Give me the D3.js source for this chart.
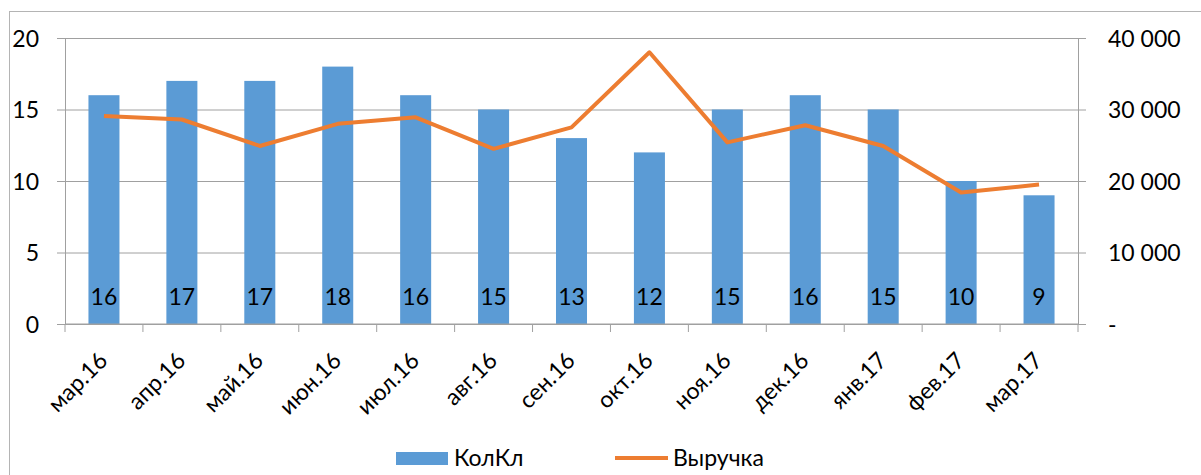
<!DOCTYPE html>
<html>
<head>
<meta charset="utf-8">
<script src="https://cdn.jsdelivr.net/npm/d3@7"></script>
<style>
  html, body { margin: 0; padding: 0; background: #fff; }
  svg text { font-family: Lato, "Open Sans", sans-serif; fill: #000; }
</style>
</head>
<body>
<div id="chart"></div>
<script>
// данные
const months = ['мар.16', 'апр.16', 'май.16', 'июн.16', 'июл.16', 'авг.16', 'сен.16',
  'окт.16', 'ноя.16', 'дек.16', 'янв.17', 'фев.17', 'мар.17'];
const kolKl = [16, 17, 17, 18, 16, 15, 13, 12, 15, 16, 15, 10, 9];
const revenue = [29100, 28600, 24900, 28000, 28900, 24500, 27500, 38000, 25400, 27800, 24900, 18400, 19500];
const leftTicks = [0, 5, 10, 15, 20];
const rightTicks = [0, 10000, 20000, 30000, 40000];
const legendNames = ['КолКл', 'Выручка'];

const width = 1201, height = 475;
const margin = { top: 38, right: 123, bottom: 151, left: 65 };
const innerW = width - margin.left - margin.right;
const innerH = height - margin.top - margin.bottom;

const blue = '#5B9BD5', orange = '#ED7D31', grid = '#A0A0A0';

const svg = d3.select('#chart').append('svg')
  .attr('width', width)
  .attr('height', height);

// рамка диаграммы
svg.append('rect')
  .attr('x', 9.5).attr('y', 11.5)
  .attr('width', width + 10).attr('height', height + 10)
  .attr('fill', 'none').attr('stroke', '#B4B4B4');

const g = svg.append('g').attr('transform', `translate(${margin.left},${margin.top})`);

// шкалы
const x = d3.scaleBand().domain(months).range([0, innerW]).paddingInner(0.602).paddingOuter(0.301);
const yL = d3.scaleLinear().domain([0, 20]).range([innerH, 0]);
const yR = d3.scaleLinear().domain([0, 40000]).range([innerH, 0]);

// сетка + левая ось
g.append('g')
  .call(d3.axisLeft(yL).tickValues(leftTicks).tickSizeInner(8).tickSizeOuter(0).tickPadding(18))
  .call(ax => {
    ax.select('.domain').attr('stroke', grid);
    ax.selectAll('line').attr('stroke', grid);
    ax.selectAll('text').style('font-size', '23px').attr('dy', '0.36em');
    ax.selectAll('.tick').append('line')
      .attr('x1', 0).attr('x2', innerW).attr('stroke', grid);
  });

// правая ось
const fmt = v => v === 0 ? '-' : d3.format(',')(v).replace(/,/g, ' ');
g.append('g')
  .attr('transform', `translate(${innerW},0)`)
  .call(d3.axisRight(yR).tickValues(rightTicks).tickFormat(fmt).tickSizeInner(8).tickSizeOuter(0).tickPadding(22))
  .call(ax => {
    ax.select('.domain').attr('stroke', grid);
    ax.selectAll('line').attr('stroke', grid);
    ax.selectAll('text').style('font-size', '23px').attr('dy', '0.36em');
  });

// столбцы
g.selectAll('rect.bar')
  .data(kolKl)
  .join('rect')
  .attr('class', 'bar')
  .attr('x', (d, i) => x(months[i]))
  .attr('y', d => yL(d))
  .attr('width', x.bandwidth())
  .attr('height', d => innerH - yL(d))
  .attr('fill', blue);

// нижняя ось с делениями между категориями
const xAxis = g.append('g').attr('transform', `translate(0,${innerH})`);
xAxis.append('line').attr('x1', 0).attr('x2', innerW).attr('stroke', grid);
xAxis.selectAll('line.tk')
  .data(d3.range(months.length + 1))
  .join('line')
  .attr('class', 'tk')
  .attr('x1', i => i * x.step()).attr('x2', i => i * x.step())
  .attr('y1', 0).attr('y2', 8)
  .attr('stroke', grid);
xAxis.selectAll('text')
  .data(months)
  .join('text')
  .attr('transform', d => `translate(${x(d) + x.bandwidth() / 2 + 5},${38}) rotate(-45)`)
  .attr('text-anchor', 'end')
  .style('font-size', '23px')
  .text(d => d);

// подписи значений
g.selectAll('text.lbl')
  .data(kolKl)
  .join('text')
  .attr('class', 'lbl')
  .attr('x', (d, i) => x(months[i]) + x.bandwidth() / 2)
  .attr('y', innerH - 19)
  .attr('text-anchor', 'middle')
  .style('font-size', '23px')
  .text(d => d);

// линия выручки
const line = d3.line()
  .x((d, i) => x(months[i]) + x.bandwidth() / 2)
  .y(d => yR(d));
g.append('path')
  .datum(revenue)
  .attr('d', line)
  .attr('fill', 'none')
  .attr('stroke', orange)
  .attr('stroke-width', 4)
  .attr('stroke-linejoin', 'round');

// легенда
const leg = svg.append('g');
leg.append('rect').attr('x', 396).attr('y', 452).attr('width', 52).attr('height', 13).attr('fill', blue);
leg.append('text').attr('x', 454).attr('y', 466).style('font-size', '23px').text(legendNames[0]);
leg.append('line').attr('x1', 615).attr('x2', 668).attr('y1', 458).attr('y2', 458)
  .attr('stroke', orange).attr('stroke-width', 4);
leg.append('text').attr('x', 673).attr('y', 466).style('font-size', '23px').text(legendNames[1]);
</script>
</body>
</html>
